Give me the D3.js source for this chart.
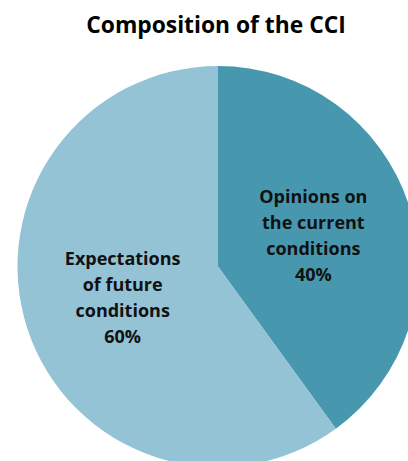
<!DOCTYPE html>
<html>
<head>
<meta charset="utf-8">
<script src="https://cdn.jsdelivr.net/npm/d3@7"></script>
<style>
  html, body { margin: 0; padding: 0; background: #fff; }
  svg { display: block; }
</style>
</head>
<body>
<svg id="chart" width="408" height="461"></svg>
<script>
// CCI components and their shares (%)
const categories = [
  ["Opinions on", "the current", "conditions"],
  ["Expectations", "of future", "conditions"]
];
const shares = [40, 60];
const colors = ["#4798ae", "#93c3d5"];

const width = 408, height = 461;
const cx = 218, cy = 266.5, radius = 200.5;
const fontFamily = "'Open Sans', Lato, 'DejaVu Sans', sans-serif";

const svg = d3.select("#chart");

svg.append("text")
  .attr("x", 216)
  .attr("y", 33)
  .attr("text-anchor", "middle")
  .attr("font-family", fontFamily)
  .attr("font-weight", "bold")
  .attr("font-size", 22.8)
  .attr("fill", "#000")
  .text("Composition of the CCI");

const data = shares.map((v, i) => ({ lines: categories[i], value: v, color: colors[i] }));

const pie = d3.pie().value(d => d.value).sort(null);
const arc = d3.arc().innerRadius(0).outerRadius(radius);

const g = svg.append("g").attr("transform", `translate(${cx},${cy})`);
const arcs = pie(data);

g.selectAll("path.slice")
  .data(arcs)
  .join("path")
  .attr("class", "slice")
  .attr("d", arc)
  .attr("fill", d => d.data.color);

const lineH = 26;
const labels = g.selectAll("text.label")
  .data(arcs)
  .join("text")
  .attr("class", "label")
  .attr("text-anchor", "middle")
  .attr("font-family", fontFamily)
  .attr("font-weight", "bold")
  .attr("font-size", 18)
  .attr("fill", "#111")
  .attr("transform", d => {
    const [x, y] = arc.centroid(d);
    return `translate(${x},${y})`;
  });

labels.each(function(d) {
  const lines = d.data.lines.concat([d.data.value + "%"]);
  const t = d3.select(this);
  const offset = -(lines.length - 1) / 2 * lineH;
  lines.forEach((ln, i) => {
    t.append("tspan")
      .attr("x", 0)
      .attr("y", offset + i * lineH)
      .attr("dy", "0.35em")
      .text(ln);
  });
});
</script>
</body>
</html>
